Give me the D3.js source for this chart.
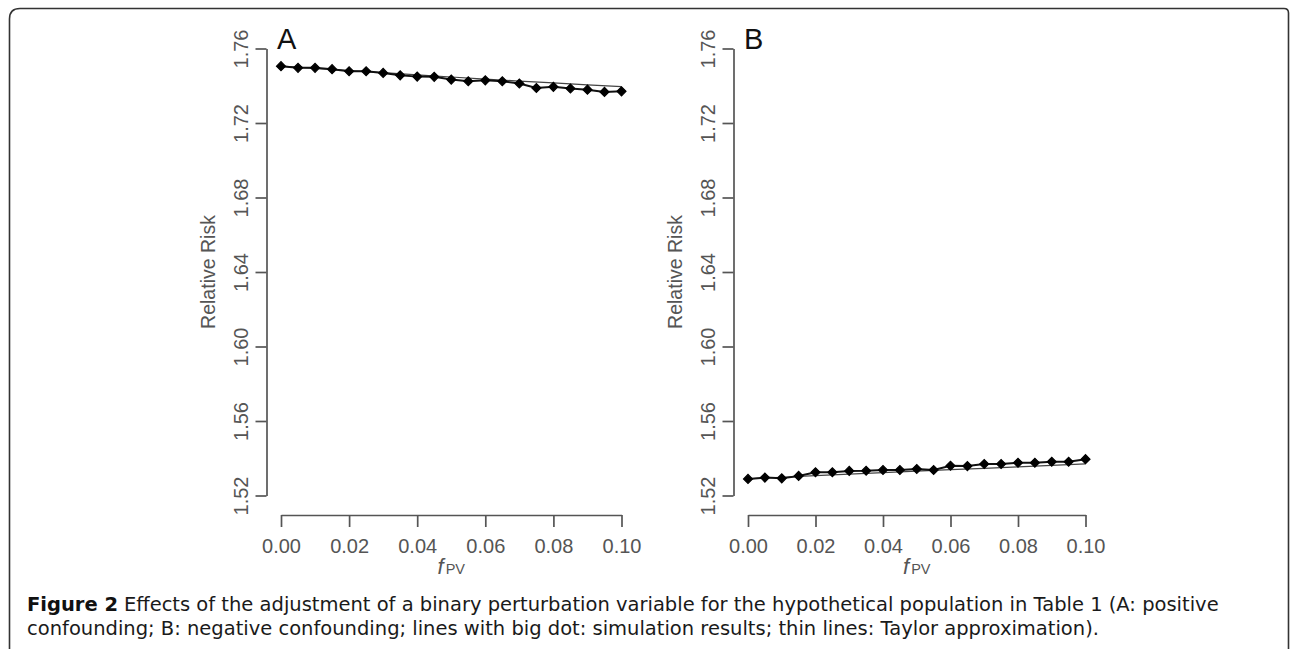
<!DOCTYPE html>
<html>
<head>
<meta charset="utf-8">
<script src="https://cdn.jsdelivr.net/npm/d3@7"></script>
<style>
  html, body { margin: 0; padding: 0; background: #fff; }
  svg { display: block; }
</style>
</head>
<body>
<svg id="chart" width="1290" height="649"></svg>
<script>
// ---- data ----
const fpv = [0.000, 0.005, 0.010, 0.015, 0.020, 0.025, 0.030, 0.035, 0.040, 0.045, 0.050,
             0.055, 0.060, 0.065, 0.070, 0.075, 0.080, 0.085, 0.090, 0.095, 0.100];
const simA = [1.7505, 1.7496, 1.7496, 1.7489, 1.7478, 1.7478, 1.7469, 1.7456, 1.7449, 1.7448, 1.7433,
              1.7424, 1.7429, 1.7424, 1.7412, 1.7388, 1.7394, 1.7385, 1.7379, 1.7367, 1.7370];
const simB = [1.5289, 1.5296, 1.5292, 1.5305, 1.5325, 1.5325, 1.5332, 1.5333, 1.5337, 1.5337, 1.5342,
              1.5337, 1.5360, 1.5358, 1.5369, 1.5369, 1.5376, 1.5376, 1.5381, 1.5381, 1.5395];
const taylorX = [0.00, 0.01, 0.02, 0.03, 0.04, 0.05, 0.06, 0.07, 0.08, 0.09, 0.10];
const taylorA = [1.7505, 1.7493, 1.7481, 1.7470, 1.7458, 1.7447, 1.7436, 1.7425, 1.7415, 1.7405, 1.7395];
const taylorB = [1.5290, 1.5298, 1.5307, 1.5315, 1.5323, 1.5331, 1.5339, 1.5346, 1.5354, 1.5362, 1.5370];
const xTicks = [0.00, 0.02, 0.04, 0.06, 0.08, 0.10];
const yTicks = [1.52, 1.56, 1.60, 1.64, 1.68, 1.72, 1.76];
const panelLabels = ["A", "B"];
const yTitle = "Relative Risk";
const captionBold = "Figure 2";
const captionLine1 = "Effects of the adjustment of a binary perturbation variable for the hypothetical population in Table 1 (A: positive";
const captionLine2 = "confounding; B: negative confounding; lines with big dot: simulation results; thin lines: Taylor approximation).";

// ---- drawing ----
const svg = d3.select("#chart");
const axisColor = "#555";

// frame
svg.append("path")
  .attr("d", "M9.5,650 L9.5,19 Q9.5,8.5 20,8.5 L1284,8.5 Q1288.5,8.5 1288.5,13 L1288.5,650")
  .attr("fill", "none").attr("stroke", "#333").attr("stroke-width", 1.6);

const y = d3.scaleLinear().domain([1.52, 1.76]).range([495.5, 48.5]);

const panels = [
  { label: panelLabels[0], sim: simA, taylor: taylorA, x0: 281, x1: 621.5, labelX: 277 },
  { label: panelLabels[1], sim: simB, taylor: taylorB, x0: 748, x1: 1085.5, labelX: 744 }
];

panels.forEach(p => {
  const x = d3.scaleLinear().domain([0, 0.1]).range([p.x0, p.x1]);
  const axisX = p.x0 - 14.5;
  const g = svg.append("g");

  // y axis
  const ya = g.append("g").attr("transform", `translate(${axisX},0)`)
    .call(d3.axisLeft(y).tickValues(yTicks).tickFormat(d3.format(".2f")).tickSize(11).tickSizeOuter(0));
  ya.select(".domain").attr("stroke", axisColor).attr("stroke-width", 1.7);
  ya.selectAll(".tick line").attr("stroke", axisColor).attr("stroke-width", 1.7);
  ya.selectAll(".tick text")
    .attr("transform", "rotate(-90)")
    .attr("x", 0).attr("y", -19).attr("dy", 0)
    .attr("text-anchor", "middle")
    .attr("fill", axisColor)
    .style("font-family", "'Liberation Sans', Arial, sans-serif")
    .style("font-size", "20px");

  // x axis
  const xa = g.append("g").attr("transform", "translate(0,515)")
    .call(d3.axisBottom(x).tickValues(xTicks).tickFormat(d3.format(".2f")).tickSize(12).tickSizeOuter(0));
  xa.select(".domain").attr("stroke", axisColor).attr("stroke-width", 1.7);
  xa.selectAll(".tick line").attr("stroke", axisColor).attr("stroke-width", 1.7);
  xa.selectAll(".tick text")
    .attr("y", 38).attr("dy", 0)
    .attr("fill", axisColor)
    .style("font-family", "'Liberation Sans', Arial, sans-serif")
    .style("font-size", "20px");

  // y title
  g.append("text")
    .attr("transform", `translate(${axisX - 52},${y(1.64)}) rotate(-90)`)
    .attr("text-anchor", "middle")
    .attr("fill", axisColor)
    .style("font-family", "'Liberation Sans', Arial, sans-serif")
    .style("font-size", "19.5px")
    .text(yTitle);

  // x title f_PV
  const xt = g.append("text")
    .attr("x", (p.x0 + p.x1) / 2).attr("y", 574)
    .attr("text-anchor", "middle")
    .attr("fill", axisColor)
    .style("font-family", "'Liberation Sans', Arial, sans-serif");
  xt.append("tspan").style("font-style", "italic").style("font-size", "22px").text("f");
  xt.append("tspan").style("font-size", "14.5px").attr("dx", 2).text("PV");

  // panel letter
  g.append("text")
    .attr("x", p.labelX).attr("y", 49)
    .attr("fill", "#111")
    .style("font-family", "'Liberation Sans', Arial, sans-serif")
    .style("font-size", "29px")
    .text(p.label);

  // Taylor thin line
  const tline = d3.line().x((d, i) => x(taylorX[i])).y(d => y(d));
  g.append("path").datum(p.taylor)
    .attr("d", tline)
    .attr("fill", "none").attr("stroke", "#444").attr("stroke-width", 1.2);

  // simulation line
  const sline = d3.line().x((d, i) => x(fpv[i])).y(d => y(d));
  g.append("path").datum(p.sim)
    .attr("d", sline)
    .attr("fill", "none").attr("stroke", "#111").attr("stroke-width", 2);

  // diamonds
  const sym = d3.symbol().type(d3.symbolSquare).size(40);
  g.selectAll("path.dot").data(p.sim).enter().append("path")
    .attr("class", "dot")
    .attr("d", sym)
    .attr("transform", (d, i) => `translate(${x(fpv[i])},${y(d)}) rotate(45)`)
    .attr("fill", "#000").attr("stroke", "#000").attr("stroke-width", 1.2);
});

// caption: separate text elements for the bold label and the rest
const capFont = "'DejaVu Sans', 'Noto Sans', sans-serif";
const fs0 = 18;
const cb = svg.append("text").attr("x", 27).attr("y", 611).attr("fill", "#111")
  .style("font-family", capFont).style("font-size", fs0 + "px").style("font-weight", "bold")
  .text(captionBold);
const c1 = svg.append("text").attr("y", 611).attr("fill", "#1a1a1a")
  .style("font-family", capFont).style("font-size", fs0 + "px")
  .text(captionLine1);
const c2 = svg.append("text").attr("x", 27).attr("y", 634.5).attr("fill", "#1a1a1a")
  .style("font-family", capFont).style("font-size", fs0 + "px")
  .text(captionLine2);
// fit line 1 to its width in the reference (27 .. 1234)
const gapEm = 0.3;
const total = cb.node().getComputedTextLength() + c1.node().getComputedTextLength() + gapEm * fs0;
const fs = Math.min(19.5, fs0 * (1234 - 27) / total);
[cb, c1, c2].forEach(t => t.style("font-size", fs + "px"));
c1.attr("x", 27 + cb.node().getComputedTextLength() + gapEm * fs);
</script>
</body>
</html>
